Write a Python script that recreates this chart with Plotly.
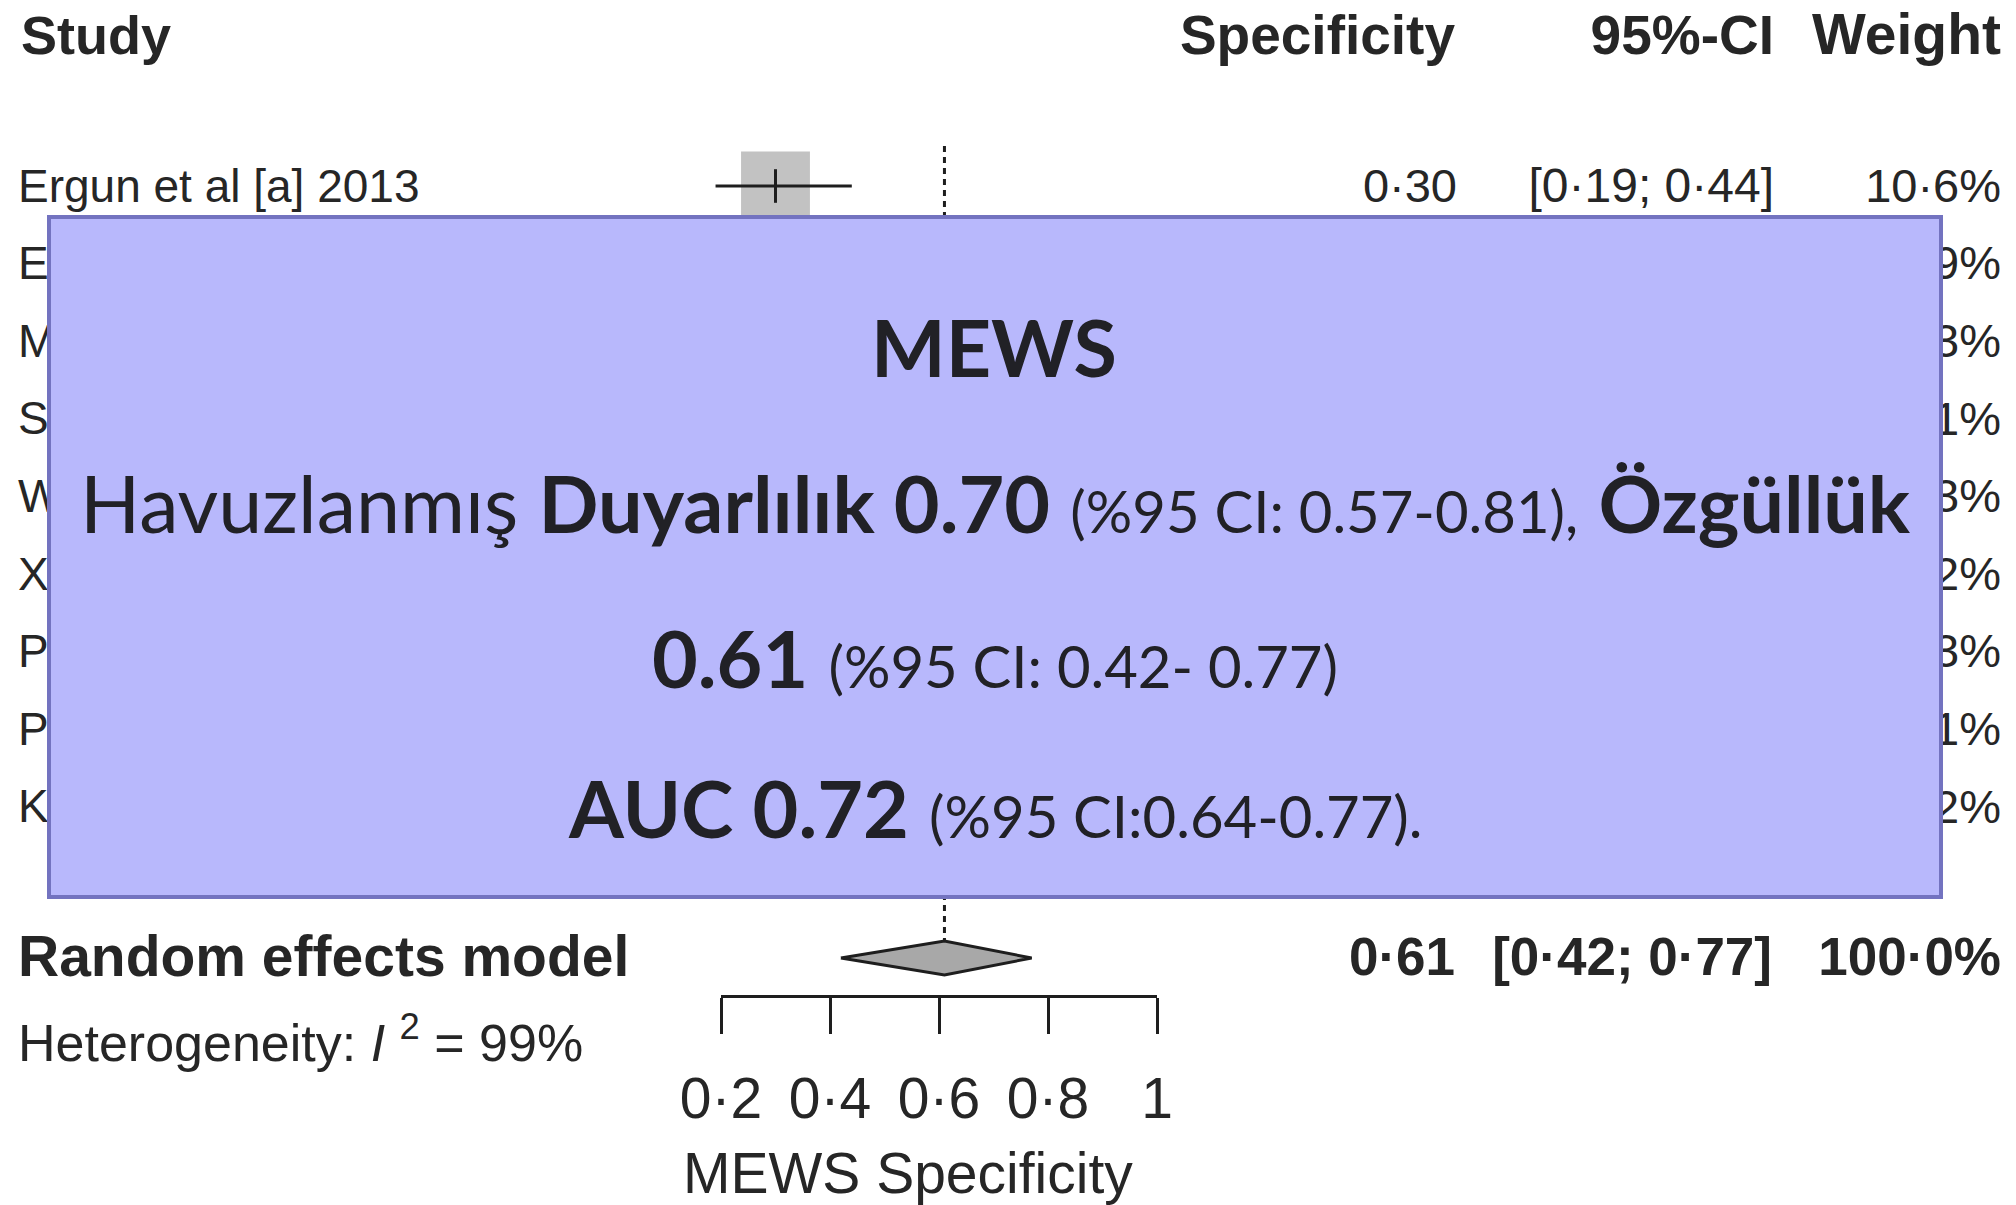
import plotly.graph_objects as go

W, H = 2016, 1205

# ---------------- data ----------------
studies = ["Ergun et al [a] 2013", "Ergun et al [b] 2013", "Mitsunaga et al 2019",
           "Subbe et al 2001", "Wang et al 2016", "Xie et al 2018",
           "Paterson et al 2006", "Pedersen et al 2018", "Kim et al 2017"]
spec = [0.30, 0.55, 0.72, 0.45, 0.83, 0.71, 0.78, 0.48, 0.80]
ci_lo = [0.19, 0.45, 0.70, 0.38, 0.79, 0.66, 0.74, 0.42, 0.76]
ci_hi = [0.44, 0.64, 0.74, 0.52, 0.86, 0.75, 0.81, 0.54, 0.83]
weight = [10.6, 10.9, 11.3, 11.1, 11.3, 11.2, 11.3, 11.1, 11.2]

pooled = 0.61
pooled_lo = 0.42
pooled_hi = 0.77
pooled_weight = 100.0
i2 = 99

tick_vals = [0.2, 0.4, 0.6, 0.8, 1.0]
tick_text = ["0·2", "0·4", "0·6", "0·8", "1"]
header = ["Study", "Specificity", "95%-CI", "Weight"]
axis_title = "MEWS Specificity"

overlay_title = "MEWS"
overlay_lines = [
    "Havuzlanmış <b>Duyarlılık 0.70</b> <span style='font-size:58px'>(%95 CI: 0.57-0.81),</span> <b>Özgüllük</b>",
    "<b>0.61</b> <span style='font-size:58px'>(%95 CI: 0.42- 0.77)</span>",
    "<b>AUC 0.72</b> <span style='font-size:58px'>(%95 CI:0.64-0.77).</span>",
]

# ---------------- layout helpers (pixel calibration) ----------------
X0_PX, PX_PER_UNIT = 721, 545.0      # pixel of x=0.2, pixels per unit
ROW0_PX, ROW_STEP = 186, 77.6        # pixel of first study row, row spacing
TEXT_DY = 4 / ROW_STEP               # small vertical nudge for text baselines


def px2x(px):
    return 0.2 + (px - X0_PX) / PX_PER_UNIT


def px2row(py):
    return (py - ROW0_PX) / ROW_STEP


def fmt(v):
    return f"{v:.2f}".replace(".", "·")


def fmtw(v):
    return f"{v:.1f}".replace(".", "·") + "%"


rows = list(range(len(studies)))
re_row = px2row(958)
het_row = px2row(1044)
hdr_row = px2row(36)

TXT = "#262626"
FONT = "Liberation Sans, Arial, Helvetica, sans-serif"
GRAY = "#A8A8A8"
INK = "#1e1e1e"

fig = go.Figure()

# squares (size by weight)
fig.add_trace(go.Scatter(
    x=spec, y=rows, mode="markers",
    marker=dict(symbol="square", size=[w * 6.5 for w in weight], color=GRAY,
                line=dict(width=0)),
    hoverinfo="skip", showlegend=False))

# CI lines
cx, cy = [], []
for lo, hi, r in zip(ci_lo, ci_hi, rows):
    cx += [lo, hi, None]
    cy += [r, r, None]
fig.add_trace(go.Scatter(x=cx, y=cy, mode="lines",
                         line=dict(color=INK, width=3),
                         hoverinfo="skip", showlegend=False))

# point estimate ticks
fig.add_trace(go.Scatter(
    x=spec, y=rows, mode="markers",
    marker=dict(symbol="line-ns", size=24, line=dict(width=3, color=INK)),
    hoverinfo="skip", showlegend=False))

# dashed pooled line
fig.add_trace(go.Scatter(
    x=[pooled, pooled], y=[px2row(146), px2row(940)], mode="lines",
    line=dict(color=INK, width=3, dash="6px,5px"),
    hoverinfo="skip", showlegend=False))

# diamond (on the visible axis x2)
dh = 17 / ROW_STEP
fig.add_trace(go.Scatter(
    x=[pooled_lo, pooled, pooled_hi, pooled, pooled_lo],
    y=[re_row, re_row - dh, re_row, re_row + dh, re_row],
    mode="lines", fill="toself", fillcolor=GRAY,
    line=dict(color=INK, width=3),
    xaxis="x2", yaxis="y", hoverinfo="skip", showlegend=False))


def text_trace(xs, ys, texts, pos, size, bold=False):
    if bold:
        texts = [f"<b>{t}</b>" for t in texts]
    fig.add_trace(go.Scatter(
        x=xs, y=[v + TEXT_DY for v in ys], text=texts, mode="text", textposition=pos,
        textfont=dict(family=FONT, size=size, color=TXT),
        cliponaxis=False, hoverinfo="skip", showlegend=False))


# header
text_trace([px2x(21)], [hdr_row], [header[0]], "middle right", 54, True)
text_trace([px2x(1455), px2x(1774)], [hdr_row] * 2, header[1:3], "middle left", 55, True)
text_trace([px2x(2001)], [hdr_row], header[3:], "middle left", 57, True)

# study rows
text_trace([px2x(18)] * len(studies), rows, studies, "middle right", 46)
text_trace([px2x(1457)] * len(studies), rows, [fmt(v) for v in spec], "middle left", 47)
text_trace([px2x(1774)] * len(studies), rows,
           [f"[{fmt(a)}; {fmt(b)}]" for a, b in zip(ci_lo, ci_hi)], "middle left", 48)
text_trace([px2x(2001)] * len(studies), rows, [fmtw(w) for w in weight], "middle left", 47)

# random effects row
text_trace([px2x(18)], [re_row], ["Random effects model"], "middle right", 57, True)
text_trace([px2x(1455), px2x(1772), px2x(2001)], [re_row] * 3,
           [fmt(pooled), f"[{fmt(pooled_lo)}; {fmt(pooled_hi)}]", fmtw(pooled_weight)],
           "middle left", 53, True)
text_trace([px2x(18)], [het_row], [f"Heterogeneity: <i>I</i> <sup>2</sup> = {i2}%"],
           "middle right", 52)

fig.update_layout(
    template="none",
    width=W, height=H, autosize=False,
    margin=dict(l=0, r=0, t=0, b=0, pad=0, autoexpand=False),
    paper_bgcolor="white", plot_bgcolor="rgba(0,0,0,0)",
    xaxis=dict(domain=[0, 1], range=[px2x(0), px2x(W)], visible=False,
               fixedrange=True, automargin=False),
    yaxis=dict(domain=[0, 1], range=[px2row(H), px2row(0)], visible=False,
               fixedrange=True, automargin=False),
    xaxis2=dict(domain=[X0_PX / W, (X0_PX + 0.8 * PX_PER_UNIT) / W], range=[0.2, 1.0],
                anchor="free", position=1 - 996 / H, automargin=False,
                showline=True, linecolor=INK, linewidth=3,
                ticks="outside", ticklen=36, tickwidth=3, tickcolor=INK,
                ticklabelstandoff=16,
                tickvals=tick_vals, ticktext=tick_text, showgrid=False, zeroline=False,
                tickfont=dict(family=FONT, size=57, color=TXT),
                fixedrange=True),
    showlegend=False,
)

# axis title (offset left of the axis centre, as in the original)
fig.add_annotation(xref="paper", yref="paper", x=908 / W, y=1 - 1173 / H,
                   text=axis_title, showarrow=False, xanchor="center", yanchor="middle",
                   font=dict(family=FONT, size=57, color=TXT))

# overlay box
fig.add_shape(type="rect", xref="paper", yref="paper",
              x0=49 / W, x1=1941 / W, y0=1 - 897 / H, y1=1 - 217 / H,
              fillcolor="rgb(184,184,252)", line=dict(color="rgb(115,115,192)", width=4),
              layer="above")

OFONT = "Lato, Carlito, Calibri, sans-serif"
OCOL = "#212126"
fig.add_annotation(xref="paper", yref="paper", x=994 / W, y=1 - 347 / H,
                   text=f"<b>{overlay_title}</b>", showarrow=False,
                   xanchor="center", yanchor="middle",
                   font=dict(family=OFONT, size=79, color=OCOL))
for txt, py in zip(overlay_lines, [502, 658, 808]):
    fig.add_annotation(xref="paper", yref="paper", x=995 / W, y=1 - py / H,
                       text=txt, showarrow=False, xanchor="center", yanchor="middle",
                       font=dict(family=OFONT, size=79, color=OCOL))

fig.write_html("out.html")
